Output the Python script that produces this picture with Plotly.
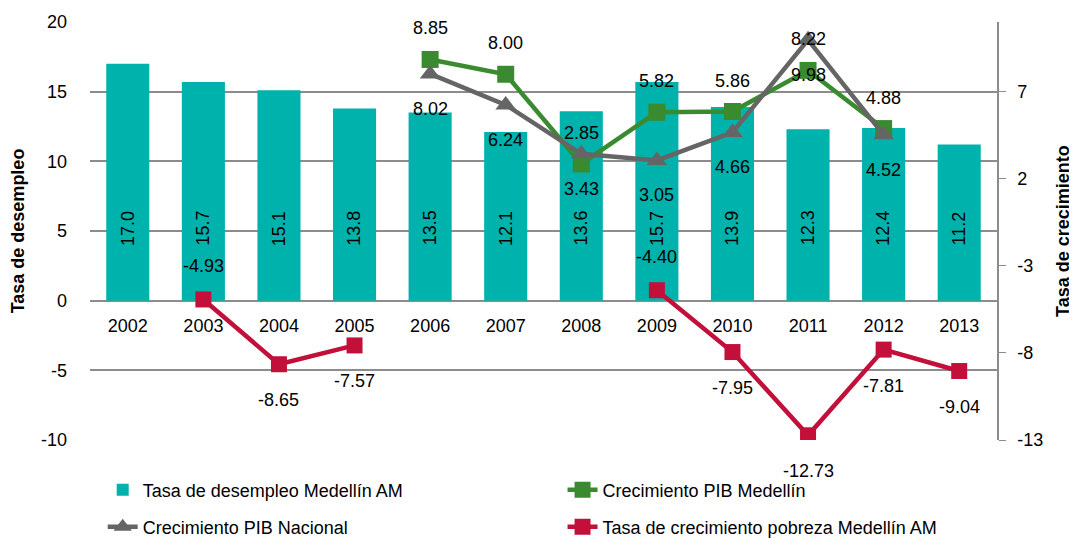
import plotly.graph_objects as go

years = [2002, 2003, 2004, 2005, 2006, 2007, 2008, 2009, 2010, 2011, 2012, 2013]
desempleo = [17.0, 15.7, 15.1, 13.8, 13.5, 12.1, 13.6, 15.7, 13.9, 12.3, 12.4, 11.2]
pib_medellin = [None, None, None, None, 8.85, 8.00, 2.85, 5.82, 5.86, 8.22, 4.88, None]
pib_nacional = [None, None, None, None, 8.02, 6.24, 3.43, 3.05, 4.66, 9.98, 4.52, None]
pobreza = [None, -4.93, -8.65, -7.57, None, None, None, -4.40, -7.95, -12.73, -7.81, -9.04]
# label above (1) or below (-1) the red markers
pobreza_label_side = [0, 1, -1, -1, 0, 0, 0, 1, -1, -1, -1, -1]

left_ticks = [-10, -5, 0, 5, 10, 15, 20]
right_ticks = [-13, -8, -3, 2, 7]

FONT = 'Liberation Sans, Arial, sans-serif'
TEAL = '#00B2AC'
GREEN = '#3A8A30'
GRAY = '#656565'
RED = '#C2103A'

fig = go.Figure()

fig.add_trace(go.Bar(
    x=years, y=desempleo, name='Tasa de desempleo Medellín AM',
    marker=dict(color=TEAL, line=dict(width=0)), legend='legend'))

fig.add_trace(go.Scatter(
    x=years, y=pib_medellin, name='Crecimiento PIB Medellín', yaxis='y2',
    mode='lines+markers', line=dict(color=GREEN, width=4.5),
    marker=dict(symbol='square', size=17, color=GREEN), legend='legend2'))

fig.add_trace(go.Scatter(
    x=years, y=pib_nacional, name='Crecimiento PIB Nacional', yaxis='y2',
    mode='lines+markers', line=dict(color=GRAY, width=4.5),
    marker=dict(symbol='triangle-up', size=18, color=GRAY), legend='legend3'))

fig.add_trace(go.Scatter(
    x=years, y=pobreza, name='Tasa de crecimiento pobreza Medellín AM', yaxis='y2',
    mode='lines+markers', line=dict(color=RED, width=4.5),
    marker=dict(symbol='square', size=16, color=RED), legend='legend4'))

annotations = []
lab_font = dict(family=FONT, size=18, color='#000000')
for yr, v in zip(years, desempleo):
    annotations.append(dict(x=yr, y=5.2, xref='x', yref='y', text=f'{v:.1f}',
                            textangle=-90, showarrow=False, font=lab_font))
for yr, v in zip(years, pib_medellin):
    if v is not None:
        annotations.append(dict(x=yr, y=v, xref='x', yref='y2', text=f'{v:.2f}',
                                yshift=31, showarrow=False, font=lab_font))
for yr, v in zip(years, pib_nacional):
    if v is not None:
        annotations.append(dict(x=yr, y=v, xref='x', yref='y2', text=f'{v:.2f}',
                                yshift=-35, showarrow=False, font=lab_font))
for yr, v, s in zip(years, pobreza, pobreza_label_side):
    if v is not None:
        annotations.append(dict(x=yr, y=v, xref='x', yref='y2', text=f'{v:.2f}',
                                yshift=33 if s > 0 else -36, showarrow=False,
                                font=lab_font))


def leg(x, y):
    return dict(orientation='h', x=x, y=y, xanchor='left', yanchor='middle',
                font=dict(size=18), bgcolor='rgba(0,0,0,0)')


# page body has an 8px margin, so the figure is 8px smaller than the window
fig.update_layout(
    width=1069, height=530,
    margin=dict(l=82, r=80, t=14, b=98, autoexpand=False),
    paper_bgcolor='white', plot_bgcolor='white',
    font=dict(family=FONT, size=18, color='#000000'),
    bargap=0.43,
    showlegend=True,
    annotations=annotations,
    xaxis=dict(range=[2001.5, 2013.5], tickvals=years,
               ticktext=[str(y) for y in years],
               anchor='free', position=1 / 3,
               showline=False, showgrid=False, zeroline=False, ticks='',
               ticklabelstandoff=12, tickfont=dict(size=18)),
    yaxis=dict(range=[-10, 20], tickvals=left_ticks,
               ticktext=[str(t) for t in left_ticks], showgrid=True,
               gridcolor='#8C8C8C', gridwidth=1.5, zeroline=False,
               showline=False, ticks='', ticklabelstandoff=22,
               title=dict(text='<b>Tasa de desempleo</b>', standoff=12,
                          font=dict(size=18))),
    yaxis2=dict(range=[-13, 11], tickvals=right_ticks,
                ticktext=[str(t) for t in right_ticks],
                overlaying='y', side='right',
                showgrid=False, zeroline=False, showline=True,
                linecolor='#8C8C8C', linewidth=1.5, ticks='outside', ticklen=7,
                tickcolor='#8C8C8C', ticklabelstandoff=8,
                title=dict(text='<b>Tasa de crecimiento</b>', standoff=14,
                           font=dict(size=18))),
    legend=leg(0.014, -0.12),
    legend2=leg(0.521, -0.12),
    legend3=leg(0.014, -0.208),
    legend4=leg(0.521, -0.208),
)

fig.write_html('out.html')
